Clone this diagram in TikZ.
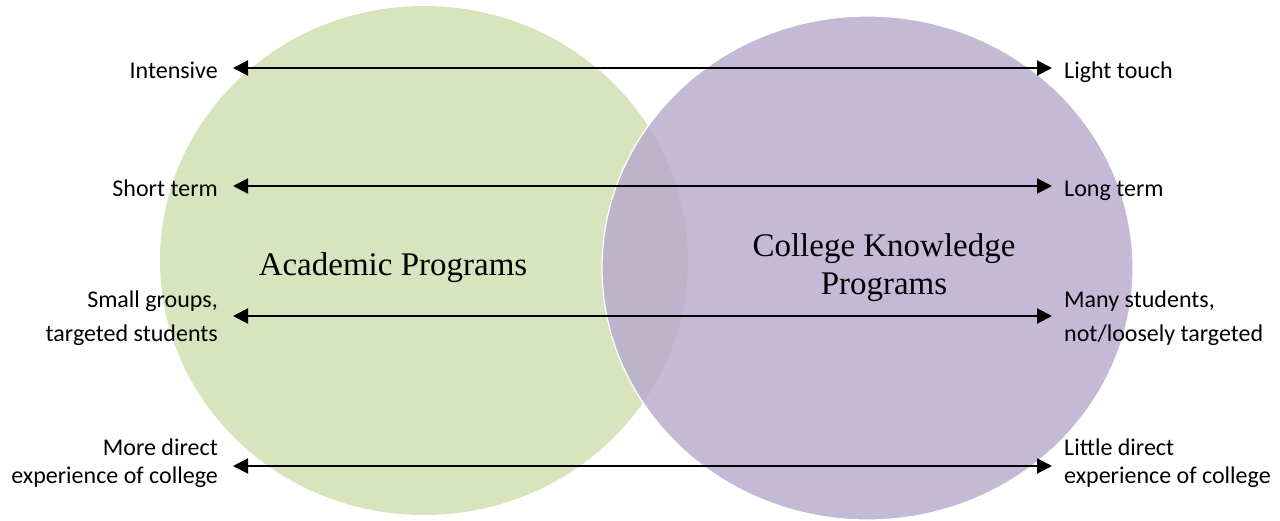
\documentclass[tikz,border=0pt]{standalone}
\usepackage{fontspec}
\setmainfont{Carlito}
\newfontfamily\titlefont{Liberation Serif}
\usetikzlibrary{arrows.meta}

\definecolor{acadgreen}{RGB}{215,228,189}
\definecolor{knowpurple}{RGB}{196,186,214}
\definecolor{overlapgray}{RGB}{189,180,204}

\begin{document}
\begin{tikzpicture}[x=1pt, y=-1pt,
        side/.style={font=\fontsize{24}{34}\selectfont, inner sep=0pt, text depth=0pt, text height=20pt},
        title/.style={font=\titlefont\fontsize{33}{38}\selectfont, align=center, inner sep=0pt},
        scalearrow/.style={{Triangle[length=15pt,width=15pt]}-{Triangle[length=15pt,width=15pt]}, line width=2pt, shorten <=15pt, shorten >=12pt}]
        % Define Variables
        \def\lX{218}
        \def\rX{1064}

        \useasboundingbox (0,0) rectangle (1280,520);

        % Circles
        \fill[acadgreen] (424,260.5) ellipse [x radius=264, y radius=254.5];
        \fill[knowpurple] (867.5,268) ellipse [x radius=265.5, y radius=252];
        \begin{scope}
            \clip (424,260.5) ellipse [x radius=264, y radius=254.5];
            \fill[overlapgray] (867.5,268) ellipse [x radius=265.5, y radius=252];
        \end{scope}
        \draw[white, line width=1.2pt] (867.5,268) ellipse [x radius=265.5, y radius=252];

        \node[title, anchor=base] (acad) at (393,275) {Academic Programs};
        \node[title] (know) at (884,268) {College Knowledge\\Programs};

        % Scales
        \node[side, anchor=east] (int) at (\lX,68) {Intensive};
        \node[side, anchor=west] (light) at (\rX,68) {Light touch};
        \draw[scalearrow] (int) -- (light);

        \node[side, anchor=east] (short) at (\lX,186) {Short term};
        \node[side, anchor=west] (long) at (\rX,186) {Long term};
        \draw[scalearrow] (short) -- (long);

        \node[side, anchor=east, align=right, text height=50pt] (small) at (\lX,316) {Small groups,\\targeted students};
        \node[side, anchor=west, align=left, text height=50pt] (many) at (\rX,316) {Many students,\\not/loosely targeted};
        \draw[scalearrow] (small) -- (many);

        \node[side, anchor=east, align=right, text height=34pt, font=\fontsize{24}{28}\selectfont] (more) at (\lX,466) {More direct\\experience of college};
        \node[side, anchor=west, align=left, text height=34pt, font=\fontsize{24}{28}\selectfont] (little) at (\rX,466) {Little direct\\experience of college};
        \draw[scalearrow] (more) -- (little);
    \end{tikzpicture}
\end{document}
